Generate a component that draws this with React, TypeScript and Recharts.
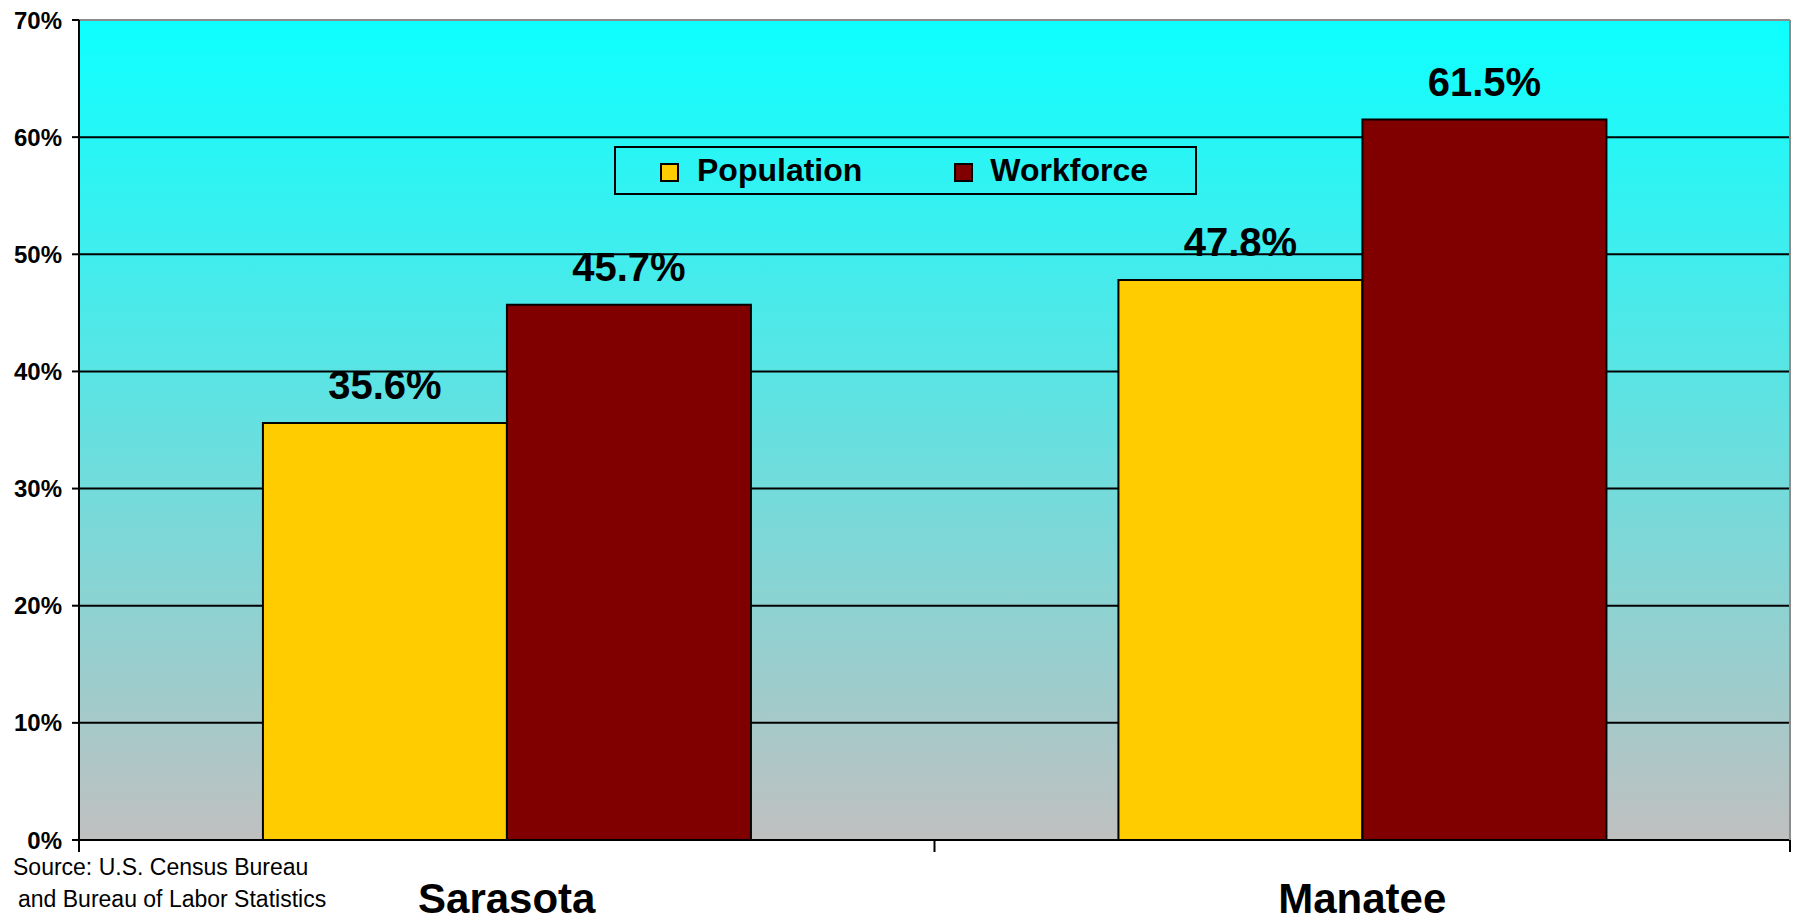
import React from 'react';
import { BarChart, Bar, XAxis, YAxis, CartesianGrid, Legend, LabelList, ReferenceLine } from 'recharts';

const categories = ['Sarasota', 'Manatee'];
const population = [35.6, 47.8];
const workforce = [45.7, 61.5];
const yTicks = [0, 10, 20, 30, 40, 50, 60, 70];
const gridValues = [10, 20, 30, 40, 50, 60];
const sourceLines = ['Source: U.S. Census Bureau', 'and Bureau of Labor Statistics'];

const FONT = '"Liberation Sans", Arial, sans-serif';
const POP_COLOR = '#ffcc00';
const WORK_COLOR = '#800000';

const data = categories.map((c, i) => ({ name: c, population: population[i], workforce: workforce[i] }));

const CategoryTick = (props: any) => {
  const { x, y, payload, index, visibleTicksCount } = props;
  const half = payload?.offset ?? 0;
  const last = index === (visibleTicksCount ?? categories.length) - 1;
  return (
    <g>
      <line x1={x - half} x2={x - half} y1={y} y2={y + 12} stroke="#000" strokeWidth={2} />
      {last && <line x1={x + half} x2={x + half} y1={y} y2={y + 12} stroke="#000" strokeWidth={2} />}
      <text x={x} y={y + 73} textAnchor="middle" fontFamily={FONT} fontWeight="bold" fontSize={42} fill="#000">
        {payload.value}
      </text>
    </g>
  );
};

const LegendBox = () => (
  <div style={{
    boxSizing: 'border-box', width: 583, height: 49, border: '2px solid #000',
    display: 'flex', alignItems: 'center', fontFamily: FONT, fontWeight: 'bold', fontSize: 32, color: '#000',
  }}>
    <span style={{ width: 15, height: 15, border: '2px solid #000', background: POP_COLOR, marginLeft: 44, marginTop: 3 }} />
    <span style={{ marginLeft: 18 }}>Population</span>
    <span style={{ width: 15, height: 15, border: '2px solid #000', background: WORK_COLOR, marginLeft: 92, marginTop: 3 }} />
    <span style={{ marginLeft: 17 }}>Workforce</span>
  </div>
);

const labelStyle = { fontFamily: FONT, fontWeight: 'bold', fontSize: 40, fill: '#000' };

export default function App() {
  return (
    <div style={{ position: 'absolute', left: 0, top: 0, width: 1794, height: 918, background: '#fff' }}>
      <BarChart
        width={1794}
        height={918}
        data={data}
        margin={{ top: 20, right: 0, left: 0, bottom: 0 }}
        barGap={0}
        barCategoryGap="21.5%"
      >
        <defs>
          <linearGradient id="plotBg" x1="0" y1="0" x2="0" y2="1">
            <stop offset="0%" stopColor="#0dffff" />
            <stop offset="100%" stopColor="#c0c0c0" />
          </linearGradient>
        </defs>
        <CartesianGrid vertical={false} horizontalValues={gridValues} stroke="#000" strokeWidth={2} fill="url(#plotBg)" />
        <ReferenceLine y={70} stroke="#8c8c8c" strokeWidth={2} />
        <XAxis
          dataKey="name"
          height={78}
          axisLine={{ stroke: '#000', strokeWidth: 2 }}
          tickLine={false}
          tickSize={0}
          tickMargin={0}
          tick={<CategoryTick />}
          interval={0}
        />
        <YAxis
          width={79}
          domain={[0, 70]}
          ticks={yTicks}
          tickFormatter={(v: number) => `${v}%`}
          axisLine={{ stroke: '#000', strokeWidth: 2 }}
          tickLine={{ stroke: '#000', strokeWidth: 2 }}
          tickSize={7}
          tickMargin={10}
          tick={{ fontFamily: FONT, fontWeight: 'bold', fontSize: 24, fill: '#000' }}
        />
        <YAxis
          yAxisId="right"
          orientation="right"
          width={4}
          domain={[0, 70]}
          tick={false}
          tickLine={false}
          axisLine={{ stroke: '#8c8c8c', strokeWidth: 2 }}
        />
        <Legend
          layout="horizontal"
          verticalAlign="middle"
          align="center"
          content={<LegendBox />}
          wrapperStyle={{ position: 'absolute', left: 614, top: 146, width: 583, height: 49 }}
        />
        <Bar dataKey="population" name="Population" fill={POP_COLOR} stroke="#000" strokeWidth={2} isAnimationActive={false}>
          <LabelList dataKey="population" position="top" offset={24} formatter={(v: any) => `${Number(v).toFixed(1)}%`}
            style={labelStyle} />
        </Bar>
        <Bar dataKey="workforce" name="Workforce" fill={WORK_COLOR} stroke="#000" strokeWidth={2} isAnimationActive={false}>
          <LabelList dataKey="workforce" position="top" offset={24} formatter={(v: any) => `${Number(v).toFixed(1)}%`}
            style={labelStyle} />
        </Bar>
      </BarChart>
      <div style={{ position: 'absolute', left: 13, top: 851, fontFamily: FONT, fontSize: 23, lineHeight: '32px', color: '#000', whiteSpace: 'nowrap' }}>
        <div>{sourceLines[0]}</div>
        <div style={{ paddingLeft: 5 }}>{sourceLines[1]}</div>
      </div>
    </div>
  );
}
